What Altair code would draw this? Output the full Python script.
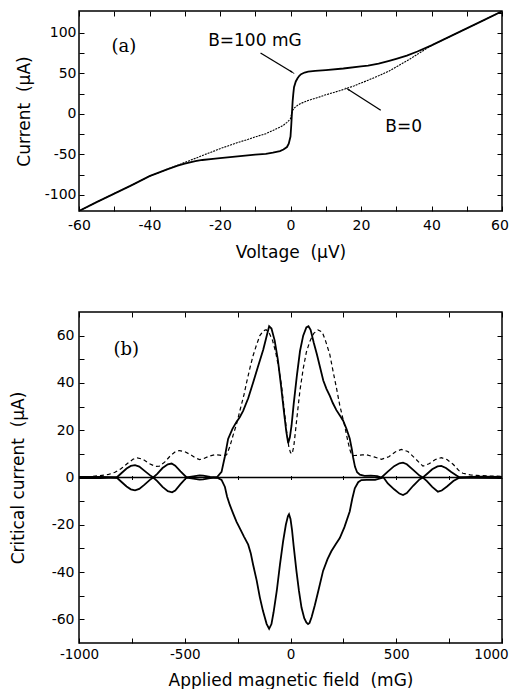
import math
import altair as alt
import pandas as pd

# ---------------- data ----------------
# panel (a): I-V curves
V100 = [-60, -55, -50, -45, -40, -35, -32, -30, -27, -25, -22, -20, -15, -10, -7,
        -5, -3, -2, -1, -0.5, 0, 0.2, 0.4, 0.6, 0.8, 1.0, 1.5, 2, 2.5, 3,
        4, 5, 7, 10, 15, 20, 22, 25, 28, 30, 33, 36, 40, 45, 50, 55, 60]
I100 = [-120, -109, -98.5, -88, -77, -68.5, -64, -61.5, -58.5, -57, -55.5, -54.7, -52.5, -50.5, -49.5,
        -48, -46, -44, -41, -37, -28, -15, 0, 15, 25, 33, 40, 44, 47, 49,
        51, 52, 53, 54, 56, 58.5, 59.5, 62, 65.5, 68, 72, 77, 84.5, 95, 105.5, 116, 126.6]

V0 = [-60, -55, -50, -45, -40, -35, -32, -30, -27, -25, -22, -20, -17, -15, -12,
      -10, -7, -5, -3, -2, -1, -0.5, 0, 0.3, 0.6, 1, 2, 3, 5, 8,
      10, 12, 15, 18, 20, 22, 25, 28, 30, 32, 34, 36, 38, 40, 45, 50, 55, 60]
I0 = [-120, -109, -98.5, -88, -77, -68.5, -63.5, -60, -55, -51.5, -46.5, -43, -38.5, -35.5, -31.5,
      -28.5, -24.5, -20.5, -16.5, -14, -10.5, -8.5, -6, 0, 4, 7, 10.5, 13, 16.5, 20.5,
      23.5, 26, 30, 34.5, 38, 41.5, 47, 53, 58, 63, 68, 73.5, 79, 84.5, 95, 105.5, 116, 126.6]

# panel (b): critical current vs field
B_theory = [-1000, -950, -900, -860, -830, -800, -770, -745, -725, -700,
            -670, -640, -620, -595, -570, -545, -525, -500, -475, -450,
            -430, -410, -385, -360, -335, -315, -302, -287, -271, -257,
            -240, -220, -208, -190, -177, -161, -145, -129, -115, -100,
            -85, -70, -55, -42, -30, -19, -8, 0, 8, 16,
            24, 30, 38, 45, 60, 75, 91, 110, 130, 150,
            165, 186, 200, 217, 233, 249, 256, 265, 272, 280,
            288, 296, 304, 320, 340, 359, 395, 430, 465, 495,
            524, 555, 590, 626, 655, 685, 713, 740, 770, 795,
            815, 850, 880, 940, 1000]
I_theory = [0.3, 0.4, 0.8, 1.3, 2.2, 3.8, 6, 7.7, 8.3, 7.8,
            6, 4.7, 4.8, 6.5, 9, 10.9, 11.4, 10.9, 9.8, 8.3,
            7.6, 8, 9, 9.6, 9.5, 9.2, 9.6, 13, 18, 22,
            28, 35, 40, 47, 51.5, 56, 60, 62, 62.5, 61,
            58, 53, 46, 38.5, 29, 20, 13, 10.5, 10, 13.5,
            20, 25, 31.5, 37, 46, 53, 57.5, 61, 62.4, 61.5,
            58, 52, 45.5, 38, 30.5, 24.5, 22, 18, 15, 12,
            9.8, 9.3, 9.3, 9.4, 9.6, 9.6, 8.7, 7.7, 8.8, 10.8,
            11.9, 11, 8, 4.8, 5.8, 7.6, 8.4, 7.6, 5.5, 3,
            1.8, 1.1, 0.9, 0.6, 0.5]

B_upper = [-1000, -900, -850, -822, -800, -775, -755, -735, -715, -690,
           -665, -649, -630, -605, -580, -562, -545, -520, -491, -460,
           -430, -413, -380, -349, -326, -310, -295, -275, -257, -240,
           -224, -200, -177, -155, -129, -115, -101, -90, -75, -60,
           -45, -30, -20, -11, -3, 5, 15, 30, 45, 60,
           75, 85, 95, 110, 125, 140, 155, 170, 186, 200,
           217, 235, 249, 265, 280, 290, 296, 305, 315, 328,
           350, 380, 410, 430, 460, 490, 515, 532, 550, 580,
           610, 626, 645, 670, 695, 713, 735, 760, 785, 800,
           850, 900, 1000]
I_upper = [0.3, 0.3, 0.2, 0, 1.8, 3.8, 4.9, 5.2, 4.6, 2.8,
           1, 0, 1.5, 4, 5.6, 5.9, 5, 2.6, 0, 0.5,
           0.9, 0.8, 0.3, 0, 2.4, 9, 16.3, 20.5, 23.3, 25.5,
           28.2, 33.5, 40.1, 46.5, 54, 59, 64, 63, 58, 50,
           39, 27, 19.5, 14.5, 17, 22, 31, 43, 53.5, 60,
           63.5, 64, 62.5, 57, 52, 46.5, 41, 37.5, 34.5, 31.5,
           28.5, 26, 24, 20.5, 16.5, 12, 8.5, 4.5, 2.2, 1.2,
           0.7, 0.8, 0.6, 0, 2.5, 4.8, 6, 6.3, 5.6, 3.2,
           0.8, 0, 1.5, 3.5, 4.7, 4.9, 4, 2.3, 0.8, 0,
           0.3, 0.4, 0.3]

B_lower = [-1000, -900, -822, -800, -775, -755, -735, -715, -690, -665,
           -649, -630, -605, -580, -560, -545, -520, -491, -460, -430,
           -413, -380, -349, -326, -310, -300, -287, -270, -255, -240,
           -220, -200, -188, -177, -160, -145, -130, -113, -101, -90,
           -80, -65, -50, -35, -22, -12, -7, 0, 7, 15,
           28, 40, 52, 65, 75, 83, 90, 100, 115, 130,
           154, 175, 193, 213, 233, 255, 280, 292, 304, 320,
           335, 360, 400, 440, 460, 490, 515, 532, 550, 580,
           610, 626, 645, 670, 697, 715, 740, 770, 800, 850,
           1000]
I_lower = [-0.3, -0.3, 0, -1.8, -3.8, -5, -5.4, -4.8, -3, -1,
           0, -1.5, -4, -5.8, -6.3, -5.5, -2.8, 0, -0.5, -0.9,
           -0.8, -0.3, 0, -1, -4, -8, -11.6, -15.5, -18.8, -21.4,
           -25, -28.4, -32, -36.8, -43.5, -50.7, -56.5, -61.9, -64, -62,
           -57, -48, -37, -27, -20, -16.3, -15.5, -17.5, -22, -29,
           -39.5, -48, -55, -59.5, -61.3, -62, -61.5, -59, -54, -48.5,
           -39.5, -34.5, -31.2, -28.3, -25.6, -21, -14.4, -9, -4.6, -2,
           -1.1, -1, -1, 0, -2.5, -5, -6.8, -7.4, -6.6, -3.5,
           -0.8, 0, -1.5, -4, -6, -5.5, -3.8, -1.5, 0, -0.2,
           -0.3]

# annotations (data coordinates)
A_TEXT = ["B=100 mG", "B=0"]
A_TEXT_X = [-10.1, 32.1]
A_TEXT_Y = [83.4, -22.4]
A_ARROW_X1 = [-8.5, 25.6]
A_ARROW_Y1 = [75.1, 4.4]
A_ARROW_X2 = [0.4, 16.3]
A_ARROW_Y2 = [51.7, 30.3]
PANEL_A = ("(a)", -47.3, 76.4)
PANEL_B = ("(b)", -777, 52)

# ticks
XT1 = list(range(-60, 61, 10))
YT1 = list(range(-100, 101, 25))
YT1R = list(range(-100, 126, 25))
XT2 = list(range(-1000, 1001, 250))
YT2 = list(range(-60, 61, 10))
ZT2 = list(range(-750, 751, 250))

# ---------------- styling ----------------
FONT = "DejaVu Sans"
SERIF = "DejaVu Serif"
W = 423
H1 = 200
H2 = 331
TK = 5


def axis_main(orient, values, mod, label_pad, title, title_pos, label_size=14, last_shift=None):
    kw = dict(orient=orient, values=values,
              labelExpr=f"datum.value % {mod} === 0 ? toString(datum.value) : ''",
              offset=-TK, tickSize=TK, tickColor="black", tickWidth=1,
              domain=False, grid=False, labelFlush=False, labelOverlap=False,
              labelPadding=label_pad, labelFont=FONT, labelFontSize=label_size, labelColor="black",
              minExtent=0,
              title=title, titleFont=FONT, titleFontSize=17, titleFontWeight="normal",
              titleColor="black")
    if last_shift is not None:
        kw["labelOffset"] = {"condition": {"test": f"datum.value === {last_shift[0]}",
                                           "value": last_shift[1]}, "value": 0}
    if orient == "bottom":
        kw["titleY"] = title_pos
        kw["titleBaseline"] = "alphabetic"
    else:
        kw["titleX"] = title_pos
        kw["titleAngle"] = 270
        kw["titleBaseline"] = "top"
    return alt.Axis(**kw)


def axis_ticks(orient, values, offset=-TK, size=TK):
    return alt.Axis(orient=orient, values=values, labels=False, offset=offset,
                    tickSize=size, tickColor="black", tickWidth=1, minExtent=0,
                    domain=False, grid=False, title=None)


# ---------------- panel (a) ----------------
xs1 = alt.Scale(domain=[-60, 60], nice=False, zero=False)
ys1 = alt.Scale(domain=[-120, 127], nice=False, zero=False)
df100 = pd.DataFrame({"v": V100, "i": I100})
df0 = pd.DataFrame({"v": V0, "i": I0})

a_main = alt.Chart(df100).mark_line(color="black", strokeWidth=1.8, clip=True).encode(
    x=alt.X("v:Q", scale=xs1, axis=axis_main("bottom", XT1, 20, 7, "Voltage\u00a0 (\u03bcV)", 51,
                                            last_shift=(60, -2.5))),
    y=alt.Y("i:Q", scale=ys1, axis=axis_main("left", YT1, 50, 3, "Current\u00a0 (\u03bcA)", -67.4)),
)
a_axes = alt.Chart(df100).mark_point(opacity=0, size=0).encode(
    x=alt.X("v:Q", scale=xs1, axis=axis_ticks("top", XT1)),
    y=alt.Y("i:Q", scale=ys1, axis=axis_ticks("right", YT1R)),
)
a_zero = alt.Chart(df0).mark_line(color="black", strokeWidth=1.1, strokeDash=[2, 1], clip=True).encode(
    x=alt.X("v:Q", scale=xs1, axis=None),
    y=alt.Y("i:Q", scale=ys1, axis=None),
)
df_txt = pd.DataFrame({"x": A_TEXT_X, "y": A_TEXT_Y, "t": A_TEXT})
a_txt = alt.Chart(df_txt).mark_text(font=FONT, fontSize=17, align="center", baseline="alphabetic",
                                    color="black").encode(
    x=alt.X("x:Q", scale=xs1, axis=None), y=alt.Y("y:Q", scale=ys1, axis=None), text="t:N")
df_pa = pd.DataFrame({"x": [PANEL_A[1]], "y": [PANEL_A[2]], "t": [PANEL_A[0]]})
a_lab = alt.Chart(df_pa).mark_text(font=SERIF, fontSize=18, align="center", baseline="alphabetic",
                                   color="black").encode(
    x=alt.X("x:Q", scale=xs1, axis=None), y=alt.Y("y:Q", scale=ys1, axis=None), text="t:N")

sx = W / 120.0
sy = H1 / 247.0
angs = []
for x1, y1, x2, y2 in zip(A_ARROW_X1, A_ARROW_Y1, A_ARROW_X2, A_ARROW_Y2):
    dx = (x2 - x1) * sx
    dy = -(y2 - y1) * sy
    angs.append(math.degrees(math.atan2(dx, -dy)) % 360)
df_arr = pd.DataFrame({"x1": A_ARROW_X1, "y1": A_ARROW_Y1, "x2": A_ARROW_X2,
                       "y2": A_ARROW_Y2, "ang": angs})
a_rule = alt.Chart(df_arr).mark_rule(color="black", strokeWidth=1.3).encode(
    x=alt.X("x1:Q", scale=xs1, axis=None), y=alt.Y("y1:Q", scale=ys1, axis=None),
    x2="x2:Q", y2="y2:Q")
a_head = alt.Chart(df_arr).mark_point(shape="wedge", filled=True, size=45, color="black",
                                      opacity=1).encode(
    x=alt.X("x2:Q", scale=xs1, axis=None), y=alt.Y("y2:Q", scale=ys1, axis=None),
    angle=alt.Angle("ang:Q", scale=None))

panel_a = alt.layer(a_main, a_axes, a_zero, a_txt, a_lab, a_rule, a_head).resolve_axis(
    x="independent", y="independent").properties(width=W, height=H1)

# ---------------- panel (b) ----------------
xs2 = alt.Scale(domain=[-1000, 1000], nice=False, zero=False)
ys2 = alt.Scale(domain=[-70, 70], nice=False, zero=False)
dfu = pd.DataFrame({"b": B_upper, "i": I_upper})
dfl = pd.DataFrame({"b": B_lower, "i": I_lower})
dft = pd.DataFrame({"b": B_theory, "i": I_theory})

b_main = alt.Chart(dfu).mark_line(color="black", strokeWidth=1.8, clip=True).encode(
    x=alt.X("b:Q", scale=xs2,
            axis=axis_main("bottom", XT2, 500, 4, "Applied magnetic field\u00a0 (mG)", 47,
                           label_size=13.5, last_shift=(1000, -11))),
    y=alt.Y("i:Q", scale=ys2,
            axis=axis_main("left", YT2, 20, 5, "Critical current\u00a0 (\u03bcA)", -74)),
)
b_axes = alt.Chart(dfu).mark_point(opacity=0, size=0).encode(
    x=alt.X("b:Q", scale=xs2, axis=axis_ticks("top", XT2)),
    y=alt.Y("i:Q", scale=ys2, axis=axis_ticks("right", YT2)),
)
b_zt = alt.Chart(dfu).mark_point(opacity=0, size=0).encode(
    x=alt.X("b:Q", scale=xs2, axis=axis_ticks("bottom", ZT2, offset=-(H2 / 2) - 2, size=4)),
    y=alt.Y("i:Q", scale=ys2, axis=None),
)
b_low = alt.Chart(dfl).mark_line(color="black", strokeWidth=1.8, clip=True).encode(
    x=alt.X("b:Q", scale=xs2, axis=None), y=alt.Y("i:Q", scale=ys2, axis=None))
b_th = alt.Chart(dft).mark_line(color="black", strokeWidth=1.2, strokeDash=[4, 3], clip=True).encode(
    x=alt.X("b:Q", scale=xs2, axis=None), y=alt.Y("i:Q", scale=ys2, axis=None))
b_zero = alt.Chart(pd.DataFrame({"z": [0]})).mark_rule(color="black", strokeWidth=1.5).encode(
    y=alt.Y("z:Q", scale=ys2, axis=None))
df_pb = pd.DataFrame({"x": [PANEL_B[1]], "y": [PANEL_B[2]], "t": [PANEL_B[0]]})
b_lab = alt.Chart(df_pb).mark_text(font=SERIF, fontSize=18, align="center", baseline="alphabetic",
                                   color="black").encode(
    x=alt.X("x:Q", scale=xs2, axis=None), y=alt.Y("y:Q", scale=ys2, axis=None), text="t:N")

panel_b = alt.layer(b_main, b_axes, b_zt, b_zero, b_th, b_low, b_lab).resolve_axis(
    x="independent", y="independent").properties(width=W, height=H2)

chart = alt.vconcat(panel_a, panel_b, spacing=49).properties(
    padding={"left": 0, "top": 1, "right": 0, "bottom": 0}
).configure_view(stroke="black", strokeWidth=1.5)

chart.save("out.html", embed_options={"renderer": "svg", "actions": False})
